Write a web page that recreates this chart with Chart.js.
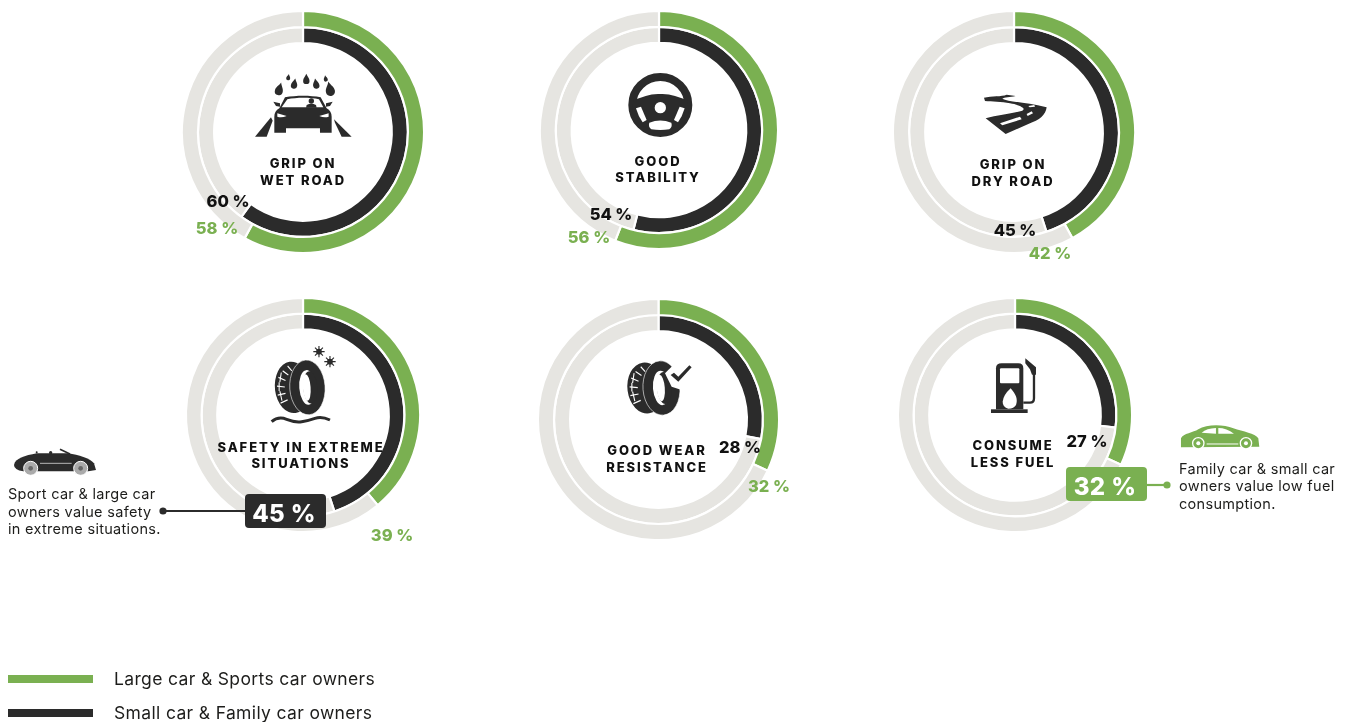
<!DOCTYPE html>
<html>
<head>
<meta charset="utf-8">
<title>What car owners value in a tyre</title>
<script src="https://cdn.jsdelivr.net/npm/chart.js@4/dist/chart.umd.js"></script>
<style>
    html, body { margin: 0; padding: 0; background: #fff; overflow: hidden; }
    #page { position: relative; width: 1349px; height: 722px; font-family: Inter, sans-serif; color: #1d1d1b; }
    #page canvas { position: absolute; }
    #overlay { position: absolute; left: 0; top: 0; }
    .lbl { position: absolute; white-space: nowrap; transform: translate(-50%, -50%); }
    .title { font-size: 13px; font-weight: 800; letter-spacing: 1.9px; color: #111; }
    .pct { font-size: 16.5px; font-weight: 800; color: #111; }
    .pct.green { color: #7ab051; }
    .big { font-size: 24px; font-weight: 800; color: #fff; letter-spacing: .4px; }
    .side { transform: translate(0, -50%); font-size: 14.5px; font-weight: 400; letter-spacing: .3px; }
    .legend { transform: translate(0, -50%); font-size: 17.5px; font-weight: 400; letter-spacing: .35px; }
</style>
</head>
<body>
<div id="page">
    <svg id="overlay" width="1349" height="722" viewBox="0 0 1349 722">
        <defs>
            <path id="drop" d="M0 -14C3 -6 8 -3 8 4A8 8 0 0 1 -8 4C-8 -3 -3 -6 0 -14Z"/>
            <g id="flake" stroke="#2b2b2b" stroke-width="2" fill="#2b2b2b">
                <circle r="4"/>
                <path d="M-10 0H10M0 -10V10M-7 -7L7 7M-7 7L7 -7"/>
            </g>
            <g id="tyre">
                <ellipse cx="80" cy="125" rx="50" ry="64" fill="#2b2b2b" transform="rotate(-8 80 125)"/>
                <g stroke="#fff" stroke-width="3" fill="none">
                    <path d="M40 100L60 108M36 122L58 124M38 144L60 140M46 164L66 156M52 84L68 94M66 72L78 84"/>
                    <path d="M48 88L44 112M42 112L42 134M44 134L50 158"/>
                </g>
                <ellipse cx="122" cy="125" rx="50" ry="68" fill="#2b2b2b" stroke="#fff" stroke-width="1.5" transform="rotate(-5 122 125)"/>
                <ellipse cx="122" cy="125" rx="23" ry="43" fill="#fff" transform="rotate(-5 122 125)"/>
                <ellipse cx="130" cy="125" rx="20" ry="40" fill="#2b2b2b" transform="rotate(-5 130 125)"/>
                <ellipse cx="120" cy="125" rx="11" ry="33" fill="#fff" transform="rotate(-5 120 125)"/>
            </g>
        </defs>

        <!-- rain + car -->
        <g transform="translate(170 0) scale(.3333)" fill="#2b2b2b">
            <use href="#drop" transform="translate(328 268) scale(1.5) rotate(15)"/>
            <use href="#drop" transform="translate(355 232) scale(.75) rotate(10)"/>
            <use href="#drop" transform="translate(373 252) scale(1.2) rotate(10)"/>
            <use href="#drop" transform="translate(409 238) scale(1.2)"/>
            <use href="#drop" transform="translate(438 252) scale(1.2) rotate(-10)"/>
            <use href="#drop" transform="translate(467 236) scale(.75) rotate(-10)"/>
            <use href="#drop" transform="translate(480 268) scale(1.7) rotate(-12)"/>
            <path d="M345 292C380 286 420 286 452 292L470 325C480 330 485 340 485 350L485 398L450 398L450 385L348 385L348 398L313 398L313 350C313 340 318 330 328 325Z"/>
            <path fill="#fff" d="M352 298C380 292 420 292 447 298L460 322L335 322Z"/>
            <circle cx="424" cy="303" r="8"/>
            <path d="M408 323L410 315Q424 307 438 315L440 323Z"/>
            <path d="M310 305L330 310L330 320L318 318Z"/>
            <path d="M488 305L468 310L468 320L480 318Z"/>
            <path fill="#fff" d="M322 340L350 348Q335 354 322 350Z"/>
            <path fill="#fff" d="M476 340L448 348Q463 354 476 350Z"/>
            <path d="M255 410L303 352L308 362L290 410Z"/>
            <path d="M492 358L545 410L515 410L495 368Z"/>
        </g>

        <!-- steering wheel -->
        <g transform="translate(530 0) scale(.3333)">
            <circle cx="391" cy="315" r="84" fill="none" stroke="#2b2b2b" stroke-width="24"/>
            <path fill="#2b2b2b" d="M310 300C340 292 360 280 391 282C420 280 445 292 472 300L476 340A95 95 0 0 1 306 340Z"/>
            <circle cx="391" cy="323" r="17" fill="#fff"/>
            <path fill="#fff" d="M318 325L333 320L350 360L338 367Q325 350 318 325Z"/>
            <path fill="#fff" d="M464 325L449 320L432 360L444 367Q457 350 464 325Z"/>
            <path fill="#fff" d="M358 368Q391 355 424 368Q428 380 418 388Q391 392 364 388Q354 380 358 368Z"/>
        </g>

        <!-- dry road -->
        <g transform="translate(885 0) scale(.3333)">
            <path fill="#2b2b2b" d="M297 293C320 288 350 290 365 284L392 288C375 292 358 292 352 296C370 306 420 306 485 322C482 345 465 360 430 372L362 402L302 355C340 345 385 340 412 332C425 325 405 315 375 310C350 305 320 305 300 303Z"/>
            <path fill="#fff" d="M345 370L405 350L410 358L352 376Z"/>
            <path fill="#fff" d="M425 342L440 334L444 340L428 348Z"/>
            <path fill="#fff" d="M430 318L448 315L450 320L434 322Z"/>
        </g>

        <!-- tyre + snow + water -->
        <g transform="translate(0 290) scale(.3333)">
            <use href="#tyre" transform="translate(793 141) scale(1.06 1.21)"/>
            <use href="#flake" transform="translate(957 185) scale(1.7)"/>
            <use href="#flake" transform="translate(990 215) scale(1.7)"/>
            <path fill="none" stroke="#2b2b2b" stroke-width="9" d="M815 395Q835 378 860 388T905 395T945 385T990 390"/>
        </g>

        <!-- tyre + check -->
        <g transform="translate(530 290) scale(.3333)">
            <use href="#tyre" transform="translate(259 144) scale(1.11 1.2)"/>
            <path fill="#fff" d="M405 250L440 215L500 225L455 300L425 290Z"/>
            <path fill="#2b2b2b" d="M422 255L445 275L485 232L478 226L445 260L432 248Z"/>
        </g>

        <!-- fuel pump -->
        <g transform="translate(890 290) scale(.3333)" fill="#2b2b2b">
            <rect x="303" y="358" width="110" height="11"/>
            <path d="M318 358V235Q318 220 335 220H385Q400 220 400 235V358Z"/>
            <rect x="330" y="235" width="58" height="45" rx="3" fill="#fff"/>
            <path fill="#fff" d="M362 295C375 310 385 325 378 345Q372 356 355 356Q338 352 338 335Q340 315 362 295Z"/>
            <path fill="none" stroke="#2b2b2b" stroke-width="7" d="M400 338H420Q432 338 432 325L432 245"/>
            <path d="M406 205L438 232L438 254L426 254L420 238L406 220Z"/>
        </g>

        <!-- convertible -->
        <g transform="translate(0 290) scale(.3333)">
            <path fill="#2b2b2b" d="M42 525C45 505 75 497 110 490L205 490C235 495 270 505 282 520L288 540L265 544L70 544Q42 540 42 525Z"/>
            <path stroke="#2b2b2b" stroke-width="5" d="M180 478L210 492"/>
            <circle cx="110" cy="487" r="3" fill="#2b2b2b"/>
            <circle cx="152" cy="488" r="5" fill="#2b2b2b"/>
            <path stroke="#fff" stroke-width="2" d="M120 520H215"/>
            <g fill="#aaa" stroke="#fff" stroke-width="3"><circle cx="92" cy="535" r="21"/><circle cx="242" cy="535" r="21"/></g>
            <circle cx="92" cy="535" r="7" fill="#666"/><circle cx="242" cy="535" r="7" fill="#666"/>
        </g>

        <!-- family car -->
        <g transform="translate(890 290) scale(.3333)" fill="#7ab051">
            <path d="M873 445C880 430 910 428 925 418C950 402 1000 402 1030 415C1060 425 1095 430 1105 445L1108 470L873 472Z"/>
            <path fill="#fff" d="M935 428Q950 415 978 414L978 431Z"/>
            <path fill="#fff" d="M985 414Q1010 414 1032 431L985 431Z"/>
            <path stroke="#fff" stroke-width="3" d="M950 462H1045"/>
            <g stroke="#fff" stroke-width="4" fill="#7ab051"><circle cx="925" cy="460" r="17"/><circle cx="1068" cy="460" r="17"/></g>
            <g fill="#fff"><circle cx="925" cy="460" r="6"/><circle cx="1068" cy="460" r="6"/></g>
        </g>

        <!-- legend swatches -->
        <rect x="8" y="675" width="85" height="8" fill="#7ab051"/>
        <rect x="8" y="709" width="85" height="8" fill="#2b2b2b"/>

        <!-- callouts -->
        <path d="M163 511H245" stroke="#2b2b2b" stroke-width="2.2"/>
        <circle cx="163" cy="511" r="3.6" fill="#2b2b2b"/>
        <rect x="245" y="494" width="81" height="34" rx="4" fill="#2b2b2b"/>
        <path d="M1147 485H1167" stroke="#7ab051" stroke-width="2.2"/>
        <circle cx="1167" cy="485" r="3.6" fill="#7ab051"/>
        <rect x="1066" y="467" width="81" height="34" rx="4" fill="#7ab051"/>
    </svg>
</div>

<script>
    // share of owners quoting each quality (%)
    var metrics = ["Grip on wet road", "Good stability", "Grip on dry road", "Safety in extreme situations", "Good wear resistance", "Consume less fuel"];
    var largeSports = [58, 56, 42, 39, 32, 32];
    var smallFamily = [60, 54, 45, 45, 28, 27];
    var seriesNames = ["Large car & Sports car owners", "Small car & Family car owners"];
    var titleLines = [
        ["GRIP ON", "WET ROAD"], ["GOOD", "STABILITY"], ["GRIP ON", "DRY ROAD"],
        ["SAFETY IN EXTREME", "SITUATIONS"], ["GOOD WEAR", "RESISTANCE"], ["CONSUME", "LESS FUEL"]
    ];
    var sportNote = ["Sport car & large car", "owners value safety", "in extreme situations."];
    var familyNote = ["Family car & small car", "owners value low fuel", "consumption."];

    // where each ring sits on the page
    var rings = [
        {x : 303, y : 132, r : 120, t : [163, 180], tx : 303, g : [217, 228], k : [228, 201]},
        {x : 659, y : 130, r : 118, t : [161, 177], tx : 658, g : [589, 237], k : [611, 214]},
        {x : 1014, y : 132, r : 120, t : [164, 181], tx : 1013, g : [1050, 253], k : [1015, 230]},
        {x : 303, y : 415, r : 116, t : [447, 463], tx : 301, g : [392, 535], k : null},
        {x : 658.5, y : 419, r : 119.5, t : [450, 467], tx : 657, g : [769, 486], k : [740, 447]},
        {x : 1015, y : 415, r : 116, t : [445, 462], tx : 1013, g : null, k : [1087, 441]}
    ];

    var GREEN = "#7ab051", DARK = "#2b2b2b", GREY = "#e6e5e1", GAP = 2.2;
    var page = document.getElementById("page");

    function label(text, x, y, cls) {
        var d = document.createElement("div");
        d.className = "lbl " + cls;
        d.textContent = text;
        d.style.left = x + "px";
        d.style.top = y + "px";
        page.appendChild(d);
    }

    function drawRing(i) {
        var box = rings[i];
        var size = Math.ceil(box.r * 2 + 8);
        var cv = document.createElement("canvas");
        cv.width = size;
        cv.height = size;
        cv.style.left = (box.x - size / 2) + "px";
        cv.style.top = (box.y - size / 2) + "px";
        page.insertBefore(cv, page.firstChild);
        new Chart(cv.getContext("2d"), {
            type : "doughnut",
            data : {
                labels : ["value", "rest"],
                datasets : [
                    {label : seriesNames[0], data : [largeSports[i], 100 - largeSports[i]], backgroundColor : [GREEN, GREY]},
                    {label : seriesNames[1], data : [smallFamily[i], 100 - smallFamily[i]], backgroundColor : [DARK, GREY]}
                ]
            },
            options : {
                responsive : false,
                animation : false,
                radius : box.r + GAP / 2,
                cutout : box.r * 0.76 - GAP / 2,
                borderColor : "#fff",
                borderWidth : GAP,
                plugins : {legend : {display : false}, tooltip : {enabled : false}}
            }
        });
    }

    metrics.forEach(function (name, i) {
        drawRing(i);
        var box = rings[i];
        label(titleLines[i][0], box.tx, box.t[0], "title");
        label(titleLines[i][1], box.tx, box.t[1], "title");
        if (box.g) label(largeSports[i] + " %", box.g[0], box.g[1], "pct green");
        if (box.k) label(smallFamily[i] + " %", box.k[0], box.k[1], "pct");
    });

    // the two highlighted values
    label(smallFamily[3] + " %", 284, 513, "big");
    label(largeSports[5] + " %", 1105, 486, "big");

    [492.5, 510.5, 527.5].forEach(function (y, i) { label(sportNote[i], 8, y, "side"); });
    [467.5, 484.5, 502.5].forEach(function (y, i) { label(familyNote[i], 1179, y, "side"); });

    label(seriesNames[0], 114, 678, "legend");
    label(seriesNames[1], 114, 712, "legend");
</script>
</body>
</html>
